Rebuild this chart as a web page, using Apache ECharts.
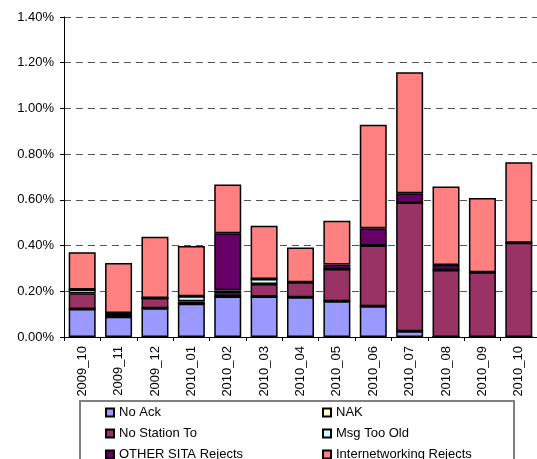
<!DOCTYPE html>
<html><head><meta charset="utf-8">
<script src="https://cdn.jsdelivr.net/npm/echarts@6/dist/echarts.min.js"></script>
<style>html,body{margin:0;padding:0;background:#fff}#c{width:537px;height:459px}</style>
</head><body><div id="c"></div>
<script>
const categories = ['2009_10','2009_11','2009_12','2010_01','2010_02','2010_03','2010_04','2010_05','2010_06','2010_07','2010_08','2010_09','2010_10'];
const noAck      = [0.123,0.089,0.126,0.145,0.177,0.177,0.174,0.156,0.134,0.025,0,0,0];
const nak        = [0,0,0,0,0,0,0,0,0,0,0,0,0];
const noStation  = [0.068,0.012,0.045,0.011,0.014,0.055,0.065,0.142,0.266,0.563,0.293,0.283,0.412];
const msgTooOld  = [0.017,0,0,0.022,0.013,0.022,0,0,0,0,0,0,0];
const otherSita  = [0,0.004,0,0,0.250,0,0,0.019,0.076,0.041,0.022,0,0];
const internet   = [0.163,0.219,0.268,0.220,0.213,0.233,0.153,0.192,0.453,0.529,0.343,0.325,0.352];
const yTicks = [0,0.2,0.4,0.6,0.8,1.0,1.2,1.4];

const seriesDefs = [
  {name:'No Ack', data:noAck, color:'#9999FF'},
  {name:'NAK', data:nak, color:'#FFFFCC'},
  {name:'No Station To', data:noStation, color:'#993366'},
  {name:'Msg Too Old', data:msgTooOld, color:'#CCFFFF'},
  {name:'OTHER SITA Rejects', data:otherSita, color:'#660066'},
  {name:'Internetworking Rejects', data:internet, color:'#FF8080'}
];
const font = 'Liberation Sans, Arial, sans-serif';
const chart = echarts.init(document.getElementById('c'));
chart.setOption({
  animation:false,
  grid:{left:64, top:17, width:477, bottom:122},
  xAxis:{type:'category', data:categories,
    axisLine:{lineStyle:{color:'#000',width:1}},
    axisTick:{show:true, length:4, lineStyle:{color:'#000'}},
    axisLabel:{rotate:90, margin:9, color:'#000', fontFamily:font, fontSize:13}},
  yAxis:{type:'value', min:yTicks[0], max:yTicks[yTicks.length-1], interval:0.2,
    axisLine:{show:true, lineStyle:{color:'#000',width:1}},
    axisTick:{show:true, length:4, lineStyle:{color:'#000'}},
    axisLabel:{formatter:v=>v.toFixed(2)+'%', color:'#000', fontFamily:font, fontSize:13, margin:10},
    splitLine:{show:true, lineStyle:{type:[7,5], color:'#555', width:1}}},
  legend:{left:80, top:401, orient:'horizontal', width:400,
    padding:[5,18,20,25], itemGap:8, itemWidth:8, itemHeight:8, icon:'rect',
    borderColor:'#808080', borderWidth:2,
    textStyle:{fontFamily:font, fontSize:13, color:'#000', lineHeight:12, height:12},
    data: seriesDefs.map((s,i)=>({name:s.name, textStyle:{width: i%2===0 ? 195 : 160}}))},
  series: seriesDefs.map(s=>({name:s.name, type:'bar', stack:'total', data:s.data, barWidth:27,
    itemStyle:{color:s.color, borderColor:'#000', borderWidth:1.5}}))
});
</script></body></html>
